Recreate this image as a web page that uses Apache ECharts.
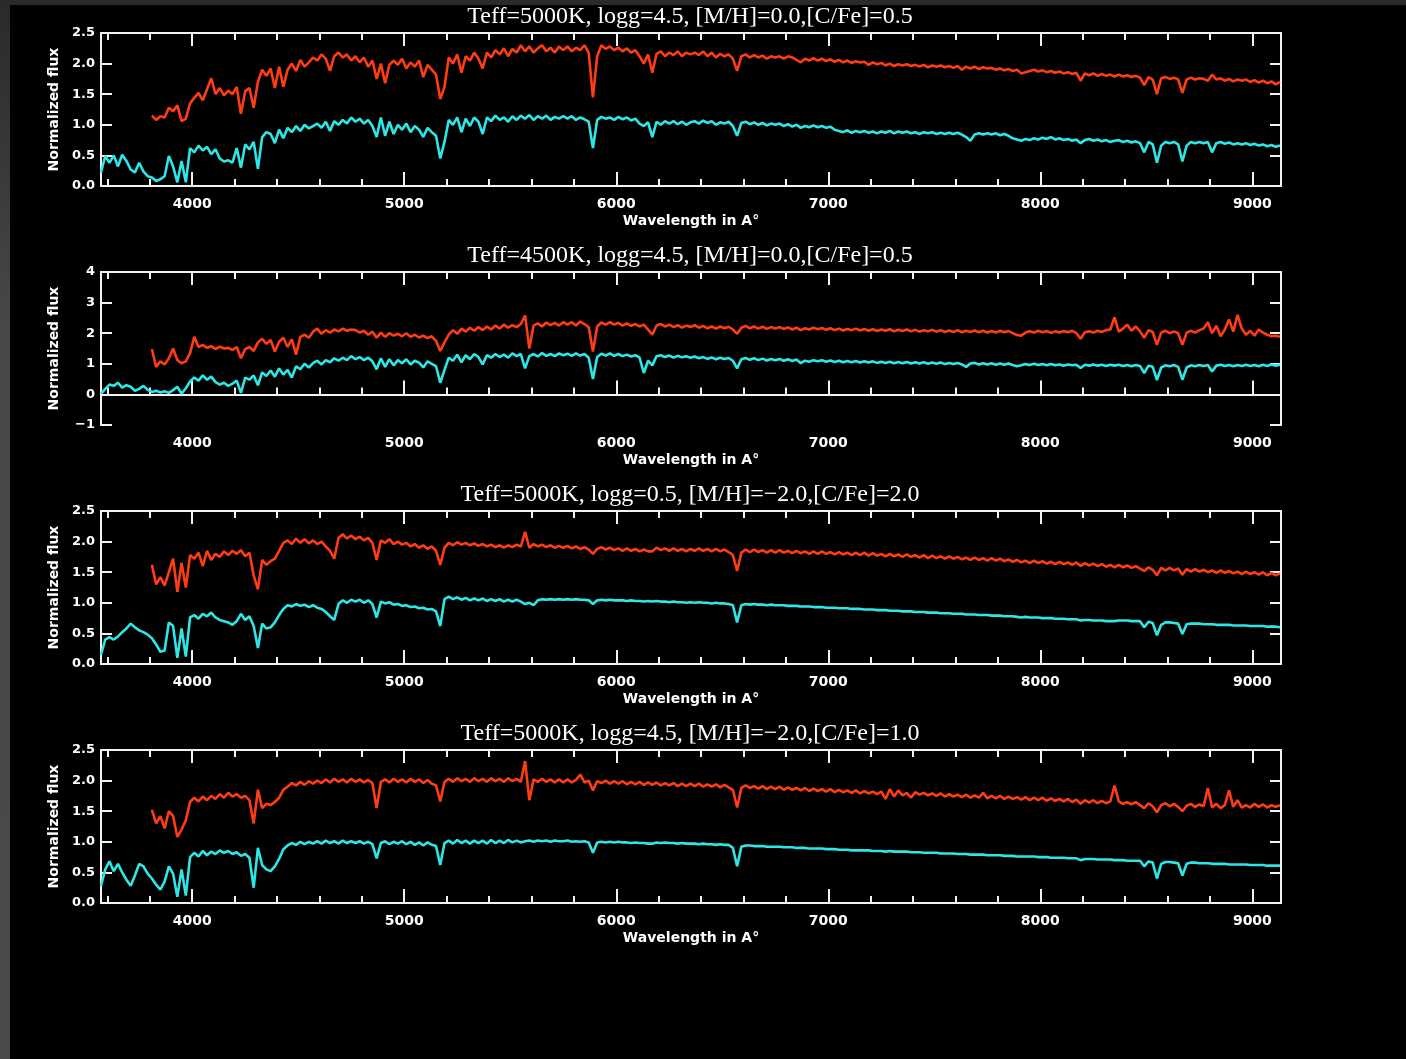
<!DOCTYPE html>
<html>
<head>
<meta charset="utf-8">
<title>Normalized flux spectra</title>
<script src="https://cdn.jsdelivr.net/npm/echarts@6/dist/echarts.min.js"></script>
<style>
  html, body { margin: 0; padding: 0; background: #000; }
  #edgeTop { position: absolute; left: 0; top: 0; width: 1406px; height: 5px; background: #2a2a2a; }
  #edgeLeft { position: absolute; left: 0; top: 0; width: 10px; height: 1059px; background: linear-gradient(#2a2a2a, #474747 30%, #4a4a4a); }
  #chartDiv { position: absolute; left: 0; top: 0; width: 1406px; height: 1059px; }
</style>
</head>
<body>
<div id="edgeTop"></div>
<div id="edgeLeft"></div>
<div id="chartDiv"></div>
<script>
// wavelength grid (Angstrom), shared by all spectra
const WAVE = [
  3570,3590,3610,3630,3650,3670,3690,3710,3730,3750,
  3770,3790,3810,3830,3850,3870,3890,3910,3930,3950,
  3970,3990,4010,4030,4050,4070,4090,4110,4130,4150,
  4170,4190,4210,4230,4250,4270,4290,4310,4330,4350,
  4370,4390,4410,4430,4450,4470,4490,4510,4530,4550,
  4570,4590,4610,4630,4650,4670,4690,4710,4730,4750,
  4770,4790,4810,4830,4850,4870,4890,4910,4930,4950,
  4970,4990,5010,5030,5050,5070,5090,5110,5130,5150,
  5170,5190,5210,5230,5250,5270,5290,5310,5330,5350,
  5370,5390,5410,5430,5450,5470,5490,5510,5530,5550,
  5570,5590,5610,5630,5650,5670,5690,5710,5730,5750,
  5770,5790,5810,5830,5850,5870,5890,5910,5930,5950,
  5970,5990,6010,6030,6050,6070,6090,6110,6130,6150,
  6170,6190,6210,6230,6250,6270,6290,6310,6330,6350,
  6370,6390,6410,6430,6450,6470,6490,6510,6530,6550,
  6570,6590,6610,6630,6650,6670,6690,6710,6730,6750,
  6770,6790,6810,6830,6850,6870,6890,6910,6930,6950,
  6970,6990,7010,7030,7050,7070,7090,7110,7130,7150,
  7170,7190,7210,7230,7250,7270,7290,7310,7330,7350,
  7370,7390,7410,7430,7450,7470,7490,7510,7530,7550,
  7570,7590,7610,7630,7650,7670,7690,7710,7730,7750,
  7770,7790,7810,7830,7850,7870,7890,7910,7930,7950,
  7970,7990,8010,8030,8050,8070,8090,8110,8130,8150,
  8170,8190,8210,8230,8250,8270,8290,8310,8330,8350,
  8370,8390,8410,8430,8450,8470,8490,8510,8530,8550,
  8570,8590,8610,8630,8650,8670,8690,8710,8730,8750,
  8770,8790,8810,8830,8850,8870,8890,8910,8930,8950,
  8970,8990,9010,9030,9050,9070,9090,9110,9130
];

const TITLES = [
  'Teff=5000K, logg=4.5, [M/H]=0.0,[C/Fe]=0.5',
  'Teff=4500K, logg=4.5, [M/H]=0.0,[C/Fe]=0.5',
  'Teff=5000K, logg=0.5, [M/H]=\u22122.0,[C/Fe]=2.0',
  'Teff=5000K, logg=4.5, [M/H]=\u22122.0,[C/Fe]=1.0'
];

const X_MAJOR = [4000, 5000, 6000, 7000, 8000, 9000];
const X_MINOR = [3600, 3800, 4200, 4400, 4600, 4800, 5200, 5400, 5600, 5800, 6200, 6400,
                 6600, 6800, 7200, 7400, 7600, 7800, 8200, 8400, 8600, 8800];

// panel 1
const p1Red = [
  null,null,null,null,null,null,null,null,null,null,
  null,null,1.15,1.08,1.14,1.12,1.28,1.22,1.32,1.06,
  1.10,1.35,1.44,1.52,1.40,1.58,1.76,1.50,1.60,1.48,
  1.56,1.50,1.62,1.18,1.55,1.60,1.28,1.70,1.90,1.80,
  1.92,1.60,1.95,1.62,1.90,2.00,1.88,2.06,1.95,2.02,
  2.10,2.05,2.15,2.08,1.88,2.12,2.18,2.10,2.15,2.05,
  2.12,2.02,2.10,1.95,2.05,1.75,2.00,1.68,1.98,2.05,
  1.98,2.08,1.92,2.02,1.95,2.05,1.78,1.98,1.90,1.82,
  1.42,1.62,2.10,2.00,2.15,1.85,2.12,2.05,2.18,2.08,
  1.92,2.18,2.10,2.22,2.15,2.25,2.12,2.24,2.18,2.30,
  2.20,2.28,2.18,2.25,2.30,2.20,2.26,2.18,2.28,2.22,
  2.28,2.20,2.26,2.22,2.30,2.18,1.45,2.12,2.30,2.24,
  2.28,2.22,2.26,2.20,2.25,2.18,2.22,2.12,2.00,2.15,
  1.85,2.16,2.20,2.12,2.18,2.14,2.20,2.12,2.18,2.15,
  2.18,2.14,2.20,2.12,2.18,2.10,2.16,2.12,2.15,2.08,
  1.88,2.12,2.15,2.10,2.14,2.10,2.13,2.08,2.12,2.10,
  2.12,2.08,2.12,2.10,2.06,2.02,2.08,2.05,2.09,2.05,
  2.08,2.04,2.07,2.03,2.06,2.02,2.05,2.01,2.04,2.02,
  2.03,1.98,2.02,1.99,2.01,1.97,2.00,1.96,1.99,1.97,
  1.99,1.96,1.98,1.95,1.98,1.94,1.97,1.95,1.97,1.94,
  1.96,1.93,1.96,1.90,1.95,1.92,1.95,1.91,1.94,1.92,
  1.93,1.90,1.92,1.89,1.91,1.88,1.90,1.84,1.86,1.88,
  1.90,1.87,1.89,1.86,1.88,1.85,1.87,1.84,1.86,1.83,
  1.85,1.72,1.84,1.81,1.84,1.80,1.83,1.80,1.82,1.79,
  1.82,1.79,1.81,1.78,1.80,1.77,1.65,1.78,1.74,1.50,
  1.76,1.78,1.75,1.77,1.74,1.52,1.74,1.77,1.74,1.76,
  1.75,1.72,1.82,1.74,1.76,1.72,1.75,1.71,1.74,1.72,
  1.74,1.70,1.73,1.69,1.72,1.68,1.71,1.66,1.70
];
const p1Cyan = [
  0.22,0.49,0.38,0.50,0.32,0.51,0.41,0.27,0.22,0.38,
  0.24,0.16,0.14,0.08,0.11,0.16,0.49,0.32,0.06,0.41,
  0.06,0.62,0.55,0.66,0.58,0.64,0.52,0.60,0.45,0.40,
  0.42,0.38,0.62,0.30,0.68,0.60,0.72,0.28,0.80,0.88,
  0.85,0.70,0.92,0.78,0.95,0.88,0.98,0.90,1.00,0.94,
  0.98,1.02,0.95,1.05,0.90,1.06,1.00,1.08,1.02,1.12,
  1.05,1.10,1.02,1.08,0.98,0.80,1.12,0.82,1.05,0.85,
  1.00,0.92,1.02,0.88,0.98,0.92,0.80,0.95,0.88,0.82,
  0.45,0.72,1.08,1.00,1.12,0.88,1.10,0.98,1.12,1.05,
  0.85,1.12,1.06,1.15,1.08,1.12,1.05,1.14,1.08,1.15,
  1.10,1.16,1.08,1.14,1.10,1.15,1.08,1.13,1.10,1.14,
  1.10,1.14,1.08,1.12,1.09,1.05,0.62,1.08,1.13,1.10,
  1.12,1.08,1.13,1.09,1.12,1.07,1.10,1.02,0.98,1.04,
  0.80,1.05,1.00,1.06,1.02,1.06,1.01,1.05,1.00,1.04,
  1.06,1.02,1.07,1.03,1.06,1.00,1.04,1.02,1.05,0.98,
  0.82,1.03,1.05,1.01,1.04,1.00,1.03,0.99,1.02,1.00,
  1.02,0.98,1.01,0.97,1.00,0.95,0.98,0.96,0.99,0.96,
  0.98,0.95,0.97,0.92,0.90,0.88,0.91,0.87,0.90,0.88,
  0.90,0.87,0.89,0.86,0.89,0.87,0.90,0.86,0.89,0.87,
  0.89,0.86,0.88,0.85,0.88,0.86,0.88,0.85,0.87,0.85,
  0.87,0.85,0.87,0.84,0.80,0.74,0.84,0.86,0.84,0.86,
  0.84,0.86,0.83,0.85,0.82,0.78,0.76,0.74,0.77,0.75,
  0.78,0.76,0.79,0.77,0.80,0.76,0.78,0.75,0.77,0.74,
  0.76,0.70,0.75,0.77,0.74,0.76,0.73,0.75,0.72,0.74,
  0.75,0.72,0.74,0.71,0.73,0.70,0.55,0.72,0.68,0.38,
  0.66,0.72,0.70,0.72,0.68,0.40,0.66,0.72,0.70,0.72,
  0.70,0.72,0.55,0.70,0.72,0.69,0.71,0.68,0.70,0.68,
  0.70,0.67,0.69,0.66,0.68,0.65,0.67,0.64,0.66
];

// panel 2
const p2Red = [
  null,null,null,null,null,null,null,null,null,null,
  null,null,1.48,0.90,1.08,0.98,1.18,1.50,1.12,1.02,
  1.08,1.35,1.88,1.55,1.62,1.52,1.58,1.48,1.56,1.50,
  1.52,1.45,1.55,1.18,1.48,1.55,1.42,1.70,1.82,1.65,
  1.78,1.40,1.72,1.85,1.55,1.80,1.30,1.88,1.95,1.85,
  2.05,2.15,1.98,2.10,2.02,2.12,2.06,2.15,2.08,2.12,
  2.10,2.02,2.08,1.95,2.05,1.85,2.02,1.88,2.00,1.92,
  1.98,1.90,2.00,1.88,1.95,1.86,1.92,1.84,1.90,1.75,
  1.42,1.70,1.95,2.10,1.98,2.15,2.05,2.18,2.08,2.20,
  2.10,2.22,2.12,2.25,2.15,2.28,2.18,2.26,2.20,2.30,
  2.58,1.50,2.25,2.32,2.22,2.35,2.26,2.34,2.25,2.36,
  2.28,2.36,2.25,2.38,2.30,2.20,1.40,2.22,2.35,2.28,
  2.36,2.28,2.34,2.25,2.32,2.24,2.30,2.22,2.28,2.12,
  1.95,2.25,2.30,2.22,2.28,2.20,2.26,2.18,2.25,2.20,
  2.26,2.18,2.24,2.16,2.22,2.15,2.22,2.16,2.21,2.12,
  1.98,2.18,2.24,2.16,2.22,2.15,2.21,2.14,2.20,2.15,
  2.20,2.14,2.19,2.12,2.18,2.10,2.16,2.12,2.18,2.13,
  2.17,2.11,2.16,2.10,2.15,2.09,2.14,2.10,2.15,2.09,
  2.14,2.08,2.13,2.07,2.12,2.08,2.13,2.06,2.11,2.07,
  2.12,2.06,2.11,2.05,2.10,2.06,2.11,2.05,2.10,2.04,
  2.09,2.04,2.10,2.03,2.08,2.04,2.09,2.03,2.08,2.02,
  2.07,2.02,2.08,2.03,2.07,2.00,1.94,1.92,2.02,2.06,
  2.02,2.08,2.03,2.07,2.01,2.06,2.02,2.07,2.03,2.08,
  2.00,1.82,2.03,2.06,2.02,2.08,2.04,2.10,2.12,2.52,
  2.05,2.15,2.28,2.08,2.22,2.06,1.85,2.10,2.04,1.62,
  2.02,2.08,2.00,2.06,2.00,1.62,2.02,2.08,2.02,2.10,
  2.15,2.36,2.00,2.24,1.90,2.12,2.45,2.05,2.60,2.15,
  1.95,2.08,1.92,2.12,2.02,1.95,1.90,1.92,1.88
];
const p2Cyan = [
  0.02,0.18,0.32,0.28,0.38,0.22,0.30,0.25,0.12,0.18,
  0.28,0.15,0.08,0.12,0.06,0.10,0.05,0.14,0.25,0.02,
  0.20,0.42,0.55,0.45,0.62,0.48,0.58,0.40,0.32,0.38,
  0.28,0.35,0.45,0.05,0.55,0.48,0.62,0.30,0.72,0.60,
  0.78,0.58,0.85,0.65,0.80,0.55,0.92,0.82,1.00,0.88,
  1.02,1.10,0.98,1.12,1.05,1.18,1.10,1.20,1.12,1.25,
  1.15,1.22,1.12,1.20,1.08,0.82,1.18,0.90,1.15,0.95,
  1.12,1.02,1.15,0.98,1.10,1.04,0.88,1.08,1.00,0.92,
  0.38,0.80,1.20,1.10,1.30,1.05,1.28,1.15,1.32,1.22,
  0.98,1.28,1.20,1.32,1.22,1.30,1.20,1.34,1.25,1.32,
  0.85,1.25,1.32,1.24,1.35,1.26,1.32,1.25,1.34,1.28,
  1.33,1.26,1.34,1.27,1.32,1.20,0.50,1.22,1.33,1.27,
  1.34,1.26,1.32,1.25,1.30,1.24,1.28,1.20,0.70,1.10,
  0.95,1.25,1.28,1.22,1.27,1.20,1.26,1.21,1.25,1.20,
  1.24,1.18,1.22,1.16,1.21,1.15,1.20,1.16,1.19,1.10,
  0.85,1.15,1.19,1.13,1.18,1.12,1.17,1.11,1.16,1.12,
  1.16,1.10,1.15,1.09,1.14,1.02,1.10,1.07,1.12,1.08,
  1.12,1.07,1.11,1.06,1.10,1.05,1.09,1.05,1.09,1.04,
  1.08,1.04,1.08,1.03,1.07,1.03,1.07,1.02,1.06,1.02,
  1.06,1.01,1.05,1.01,1.05,1.00,1.04,1.00,1.04,0.99,
  1.03,0.99,1.03,0.98,0.90,1.01,1.03,0.98,1.02,0.98,
  1.02,0.97,1.01,0.97,1.01,0.96,0.92,0.95,0.99,0.96,
  1.00,0.96,0.99,0.95,0.99,0.95,0.98,0.94,0.98,0.95,
  0.97,0.86,0.97,0.94,0.98,0.94,0.97,0.93,0.97,0.94,
  0.97,0.93,0.96,0.92,0.96,0.93,0.70,0.94,0.90,0.47,
  0.88,0.95,0.92,0.96,0.90,0.48,0.88,0.95,0.92,0.96,
  0.93,0.96,0.75,0.94,0.97,0.93,0.96,0.92,0.96,0.93,
  0.97,0.93,0.96,0.92,0.97,0.93,0.98,0.94,0.97
];

// panel 3
const p3Red = [
  null,null,null,null,null,null,null,null,null,null,
  null,null,1.62,1.30,1.42,1.28,1.50,1.72,1.18,1.65,
  1.25,1.78,1.72,1.82,1.60,1.85,1.70,1.80,1.75,1.84,
  1.78,1.85,1.80,1.86,1.76,1.82,1.45,1.22,1.70,1.62,
  1.68,1.72,1.85,1.98,2.02,1.96,2.05,1.98,2.04,1.97,
  2.02,1.96,2.00,1.92,1.85,1.72,2.06,2.12,2.05,2.10,
  2.04,2.08,2.02,2.06,1.98,1.70,2.02,1.98,2.04,1.96,
  2.00,1.95,1.98,1.92,1.96,1.90,1.94,1.88,1.92,1.85,
  1.62,1.90,1.98,1.94,1.99,1.95,1.98,1.94,1.97,1.93,
  1.96,1.92,1.95,1.91,1.94,1.90,1.94,1.91,1.95,1.92,
  2.16,1.90,1.96,1.92,1.95,1.91,1.94,1.90,1.93,1.90,
  1.93,1.89,1.92,1.88,1.91,1.87,1.80,1.88,1.91,1.87,
  1.90,1.86,1.89,1.85,1.89,1.85,1.88,1.84,1.87,1.84,
  1.84,1.90,1.86,1.89,1.85,1.89,1.85,1.88,1.84,1.88,
  1.85,1.89,1.85,1.88,1.84,1.88,1.84,1.87,1.83,1.78,
  1.52,1.82,1.87,1.83,1.87,1.83,1.86,1.82,1.86,1.82,
  1.86,1.82,1.85,1.81,1.85,1.81,1.84,1.80,1.84,1.80,
  1.84,1.80,1.83,1.79,1.83,1.79,1.82,1.78,1.82,1.78,
  1.82,1.77,1.81,1.77,1.80,1.76,1.80,1.76,1.79,1.75,
  1.79,1.75,1.78,1.74,1.78,1.73,1.77,1.73,1.76,1.72,
  1.76,1.72,1.75,1.71,1.74,1.70,1.74,1.70,1.73,1.69,
  1.73,1.69,1.72,1.68,1.71,1.67,1.70,1.66,1.69,1.65,
  1.69,1.65,1.68,1.64,1.67,1.63,1.67,1.63,1.66,1.62,
  1.66,1.60,1.65,1.61,1.64,1.60,1.63,1.59,1.62,1.58,
  1.62,1.58,1.61,1.57,1.60,1.56,1.52,1.58,1.54,1.45,
  1.57,1.53,1.57,1.53,1.56,1.46,1.55,1.51,1.55,1.51,
  1.54,1.50,1.53,1.49,1.53,1.49,1.52,1.48,1.51,1.47,
  1.51,1.47,1.50,1.46,1.50,1.45,1.49,1.45,1.48
];
const p3Cyan = [
  0.15,0.40,0.44,0.40,0.45,0.52,0.58,0.66,0.60,0.55,
  0.52,0.48,0.42,0.32,0.20,0.22,0.68,0.62,0.10,0.58,
  0.12,0.76,0.80,0.74,0.82,0.78,0.84,0.76,0.72,0.70,
  0.68,0.64,0.70,0.82,0.72,0.78,0.62,0.26,0.66,0.58,
  0.60,0.68,0.80,0.90,0.96,0.94,0.98,0.95,0.97,0.93,
  0.96,0.92,0.90,0.85,0.78,0.72,0.98,1.04,1.00,1.05,
  1.02,1.05,1.00,1.04,0.98,0.76,1.02,0.99,1.01,0.97,
  0.98,0.95,0.96,0.93,0.94,0.91,0.92,0.89,0.90,0.86,
  0.62,1.06,1.10,1.06,1.09,1.05,1.08,1.04,1.07,1.04,
  1.07,1.03,1.06,1.03,1.06,1.02,1.05,1.02,1.05,1.02,
  0.98,1.00,0.96,1.04,1.06,1.05,1.06,1.05,1.06,1.05,
  1.06,1.05,1.06,1.05,1.05,1.04,0.98,1.04,1.05,1.04,
  1.05,1.04,1.04,1.04,1.03,1.04,1.03,1.03,1.02,1.03,
  1.02,1.03,1.02,1.02,1.01,1.02,1.01,1.01,1.00,1.01,
  1.00,1.01,1.00,1.00,0.99,1.00,0.99,0.99,0.98,0.96,
  0.68,0.96,0.98,0.97,0.98,0.97,0.97,0.96,0.97,0.96,
  0.96,0.96,0.95,0.95,0.95,0.94,0.94,0.94,0.93,0.93,
  0.93,0.92,0.92,0.92,0.91,0.91,0.91,0.90,0.90,0.90,
  0.89,0.89,0.89,0.88,0.88,0.88,0.87,0.87,0.87,0.86,
  0.86,0.86,0.85,0.85,0.85,0.84,0.84,0.84,0.83,0.83,
  0.83,0.82,0.82,0.82,0.81,0.81,0.81,0.80,0.80,0.80,
  0.79,0.79,0.79,0.78,0.78,0.78,0.77,0.76,0.77,0.76,
  0.76,0.76,0.75,0.75,0.75,0.74,0.74,0.74,0.73,0.73,
  0.73,0.71,0.72,0.72,0.71,0.71,0.71,0.70,0.70,0.70,
  0.71,0.71,0.71,0.70,0.70,0.70,0.60,0.69,0.67,0.47,
  0.64,0.68,0.68,0.67,0.66,0.49,0.65,0.66,0.66,0.66,
  0.65,0.65,0.65,0.64,0.64,0.64,0.64,0.63,0.63,0.63,
  0.63,0.62,0.62,0.62,0.62,0.61,0.61,0.61,0.60
];

// panel 4
const p4Red = [
  null,null,null,null,null,null,null,null,null,null,
  null,null,1.52,1.30,1.42,1.22,1.50,1.42,1.08,1.20,
  1.35,1.65,1.72,1.66,1.74,1.68,1.75,1.70,1.78,1.72,
  1.80,1.74,1.78,1.72,1.75,1.68,1.30,1.85,1.55,1.62,
  1.60,1.65,1.72,1.85,1.90,1.96,1.92,1.98,1.93,1.99,
  1.95,2.00,1.96,2.02,1.97,2.03,1.98,2.02,1.97,2.03,
  1.98,2.02,1.97,2.01,1.96,1.55,1.98,2.02,1.97,2.03,
  1.98,2.02,1.97,2.03,1.98,2.02,1.96,2.01,1.95,1.92,
  1.66,1.98,2.03,1.98,2.04,1.99,2.03,1.98,2.04,1.99,
  2.03,1.98,2.04,1.99,2.03,1.98,2.04,1.99,2.03,1.98,
  2.32,1.68,2.02,1.98,2.03,1.98,2.02,1.97,2.02,1.97,
  2.02,1.97,2.01,2.10,1.97,2.00,1.84,1.99,1.96,2.00,
  1.95,1.99,1.95,1.99,1.94,1.98,1.94,1.98,1.93,1.97,
  1.93,1.97,1.92,1.96,1.92,1.96,1.91,1.95,1.91,1.95,
  1.91,1.95,1.90,1.94,1.90,1.94,1.89,1.93,1.89,1.85,
  1.56,1.88,1.92,1.88,1.91,1.87,1.91,1.86,1.90,1.86,
  1.90,1.85,1.89,1.85,1.88,1.84,1.88,1.83,1.87,1.83,
  1.86,1.82,1.86,1.81,1.85,1.81,1.84,1.80,1.84,1.79,
  1.83,1.79,1.82,1.78,1.82,1.70,1.86,1.74,1.84,1.76,
  1.80,1.72,1.81,1.77,1.80,1.76,1.79,1.75,1.79,1.74,
  1.78,1.74,1.77,1.73,1.77,1.72,1.76,1.72,1.80,1.71,
  1.75,1.71,1.75,1.70,1.74,1.70,1.73,1.69,1.73,1.68,
  1.72,1.68,1.72,1.67,1.71,1.67,1.70,1.66,1.70,1.65,
  1.69,1.62,1.68,1.64,1.68,1.63,1.67,1.63,1.66,1.92,
  1.66,1.62,1.65,1.61,1.65,1.60,1.55,1.63,1.58,1.48,
  1.60,1.63,1.58,1.62,1.57,1.50,1.59,1.62,1.57,1.61,
  1.58,1.88,1.56,1.62,1.55,1.60,1.84,1.57,1.68,1.56,
  1.60,1.56,1.62,1.57,1.61,1.56,1.60,1.57,1.60
];
const p4Cyan = [
  0.28,0.55,0.68,0.52,0.64,0.50,0.38,0.28,0.45,0.64,
  0.60,0.48,0.40,0.30,0.22,0.35,0.60,0.48,0.10,0.55,
  0.12,0.75,0.82,0.76,0.85,0.78,0.84,0.80,0.86,0.82,
  0.85,0.80,0.83,0.77,0.80,0.74,0.25,0.90,0.62,0.55,
  0.52,0.60,0.72,0.88,0.94,0.98,0.95,1.00,0.96,1.00,
  0.97,1.01,0.97,1.02,0.98,1.01,0.97,1.02,0.98,1.01,
  0.98,1.01,0.97,1.00,0.96,0.73,0.98,1.01,0.96,1.00,
  0.97,1.01,0.96,1.00,0.95,0.99,0.94,0.99,0.95,0.93,
  0.62,0.98,1.02,0.97,1.03,0.98,1.02,0.97,1.02,0.98,
  1.02,0.97,1.03,0.98,1.02,0.98,1.03,0.99,1.02,0.99,
  1.01,1.02,1.00,1.02,1.01,1.02,1.00,1.02,1.01,1.01,
  1.02,1.00,1.01,1.00,1.01,0.99,0.82,0.99,1.00,0.99,
  1.00,0.99,1.00,0.99,0.99,0.98,0.99,0.98,0.98,0.97,
  0.97,0.99,0.98,0.99,0.98,0.98,0.97,0.98,0.97,0.97,
  0.97,0.96,0.97,0.96,0.96,0.95,0.96,0.95,0.95,0.90,
  0.60,0.92,0.94,0.94,0.93,0.93,0.93,0.92,0.92,0.92,
  0.92,0.91,0.91,0.91,0.90,0.90,0.90,0.89,0.89,0.89,
  0.89,0.88,0.88,0.88,0.87,0.87,0.87,0.86,0.86,0.86,
  0.86,0.86,0.85,0.85,0.85,0.84,0.85,0.84,0.84,0.84,
  0.84,0.83,0.83,0.83,0.82,0.82,0.82,0.82,0.81,0.81,
  0.81,0.81,0.80,0.80,0.80,0.79,0.79,0.79,0.79,0.78,
  0.78,0.78,0.78,0.77,0.77,0.77,0.76,0.76,0.76,0.76,
  0.76,0.75,0.75,0.75,0.74,0.74,0.74,0.74,0.73,0.73,
  0.73,0.70,0.72,0.72,0.72,0.71,0.71,0.71,0.71,0.70,
  0.70,0.70,0.69,0.69,0.69,0.69,0.60,0.68,0.66,0.40,
  0.64,0.67,0.67,0.66,0.65,0.45,0.64,0.66,0.66,0.65,
  0.65,0.65,0.64,0.64,0.64,0.64,0.63,0.63,0.63,0.63,
  0.63,0.62,0.62,0.62,0.62,0.61,0.61,0.61,0.61
];

const RED = '#ff3c14';
const CYAN = '#2de6e6';
const AXIS_COLOR = '#f2f2f2';
const LABEL_FONT = 'DejaVu Sans';

const panels = [
  { title: TITLES[0], red: p1Red, cyan: p1Cyan, yMin: 0, yMax: 2.5, yStep: 0.5 },
  { title: TITLES[1], red: p2Red, cyan: p2Cyan, yMin: -1, yMax: 4, yStep: 1 },
  { title: TITLES[2], red: p3Red, cyan: p3Cyan, yMin: 0, yMax: 2.5, yStep: 0.5 },
  { title: TITLES[3], red: p4Red, cyan: p4Cyan, yMin: 0, yMax: 2.5, yStep: 0.5 }
];

const PANEL_TOP = 33;
const PANEL_STEP = 239;
const PANEL_H = 153;

const chart = echarts.init(document.getElementById('chartDiv'));

const grids = [], titles = [], xAxes = [], yAxes = [], series = [];

panels.forEach((pn, p) => {
  grids.push({ left: 101, right: 125, top: PANEL_TOP + PANEL_STEP * p, height: PANEL_H });

  titles.push({
    text: pn.title, left: 690, top: 5 + PANEL_STEP * p, textAlign: 'center', padding: 0,
    textStyle: { color: '#ffffff', fontFamily: 'Liberation Serif', fontSize: 24, fontWeight: 'normal' }
  });

  // x axes: bottom major (with labels), bottom minor, top major, top minor
  const xBase = { type: 'value', gridIndex: p, min: 3570, max: 9135, splitLine: { show: false } };
  xAxes.push(Object.assign({}, xBase, {
    position: 'bottom',
    axisLine: { show: true, lineStyle: { color: AXIS_COLOR, width: 2 } },
    axisTick: { show: true, inside: true, length: 14, customValues: X_MAJOR, lineStyle: { color: AXIS_COLOR, width: 2 } },
    axisLabel: {
      show: true, customValues: X_MAJOR, margin: 11, color: '#ffffff',
      fontFamily: LABEL_FONT, fontWeight: 'bold', fontSize: 14,
      formatter: v => String(v)
    },
    name: 'Wavelength in A\u00b0', nameLocation: 'middle', nameGap: 28,
    nameTextStyle: { color: '#ffffff', fontFamily: LABEL_FONT, fontWeight: 'bold', fontSize: 14 }
  }));
  xAxes.push(Object.assign({}, xBase, {
    position: 'bottom',
    axisLine: { show: false },
    axisTick: { show: true, inside: true, length: 7, customValues: X_MINOR, lineStyle: { color: AXIS_COLOR, width: 2 } },
    axisLabel: { show: false }
  }));
  xAxes.push(Object.assign({}, xBase, {
    position: 'top',
    axisLine: { show: true, lineStyle: { color: AXIS_COLOR, width: 2 } },
    axisTick: { show: true, inside: true, length: 13, customValues: X_MAJOR, lineStyle: { color: AXIS_COLOR, width: 2 } },
    axisLabel: { show: false }
  }));
  xAxes.push(Object.assign({}, xBase, {
    position: 'top',
    axisLine: { show: false },
    axisTick: { show: true, inside: true, length: 7, customValues: X_MINOR, lineStyle: { color: AXIS_COLOR, width: 2 } },
    axisLabel: { show: false }
  }));

  // y axes: left with labels, right as frame
  const yBase = {
    type: 'value', gridIndex: p, min: pn.yMin, max: pn.yMax, interval: pn.yStep,
    splitLine: { show: false },
    axisLine: { show: true, lineStyle: { color: AXIS_COLOR, width: 2 } },
    axisTick: { show: true, inside: true, length: 11, lineStyle: { color: AXIS_COLOR, width: 2 } }
  };
  yAxes.push(Object.assign({}, yBase, {
    position: 'left',
    axisLabel: {
      show: true, margin: 6, color: '#ffffff', fontFamily: LABEL_FONT, fontWeight: 'bold', fontSize: 13,
      formatter: v => pn.yStep < 1 ? v.toFixed(1) : String(v).replace('-', '\u2212')
    },
    name: 'Normalized flux', nameLocation: 'middle', nameGap: 40,
    nameTextStyle: { color: '#ffffff', fontFamily: LABEL_FONT, fontWeight: 'bold', fontSize: 14 }
  }));
  yAxes.push(Object.assign({}, yBase, { position: 'right', axisLabel: { show: false } }));

  [[pn.red, RED], [pn.cyan, CYAN]].forEach(([vals, color]) => {
    series.push({
      type: 'line',
      xAxisIndex: 4 * p,
      yAxisIndex: 2 * p,
      data: WAVE.map((w, i) => [w, vals[i]]),
      showSymbol: false,
      symbol: 'none',
      silent: true,
      clip: true,
      lineStyle: { color: color, width: 2.6 }
    });
  });
});

chart.setOption({
  backgroundColor: 'transparent',
  animation: false,
  title: titles,
  grid: grids,
  xAxis: xAxes,
  yAxis: yAxes,
  series: series
});
</script>
</body>
</html>
